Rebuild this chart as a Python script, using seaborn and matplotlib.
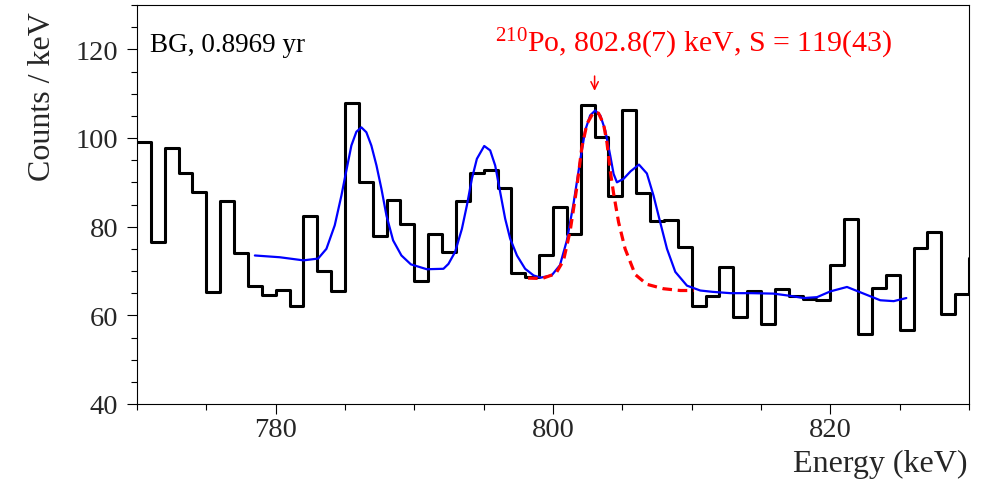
import numpy as np
import pandas as pd
import matplotlib
matplotlib.use("Agg")
import matplotlib.pyplot as plt
from matplotlib.ticker import MultipleLocator
import seaborn as sns

# ---- data ----
bin_low = list(range(770, 831))          # lower edge of each 1 keV bin
counts = [99.0, 76.5, 97.8, 92.0, 87.8, 65.3, 85.7, 74.0, 66.6, 64.5,
          65.8, 62.2, 82.5, 70.1, 65.6, 108.0, 90.0, 78.0, 86.0, 80.6,
          67.7, 78.4, 74.3, 85.7, 92.0, 92.8, 88.7, 69.6, 68.6, 73.7,
          84.5, 78.4, 107.5, 100.3, 87.0, 106.3, 87.6, 81.2, 81.5, 75.4,
          62.1, 64.3, 70.8, 59.6, 65.4, 58.0, 66.0, 64.3, 63.7, 63.4,
          71.4, 81.8, 55.7, 66.2, 69.2, 56.8, 75.2, 78.9, 60.4, 64.9,
          72.9]

fit_E = [778.5, 780.3, 782.0, 783.06, 783.66, 784.26, 784.74, 785.1, 785.46,
         785.82, 786.18, 786.54, 786.9, 787.27, 787.63, 787.99, 788.47,
         789.07, 789.75, 790.9, 792.1, 792.46, 792.94, 793.43, 793.79,
         794.15, 794.51, 795.04, 795.47, 795.83, 796.19, 796.55, 796.91,
         797.4, 797.99, 798.6, 799.1, 799.9, 800.5, 801.0, 801.48, 801.96,
         802.32, 802.68, 803.04, 803.41, 803.77, 804.13, 804.37, 804.61,
         805.09, 805.6, 806.2, 806.77, 807.25, 807.73, 808.22, 808.82,
         809.66, 810.62, 811.5, 812.8, 814.3, 815.9, 817.1, 818.07, 819.04,
         820.0, 821.2, 822.4, 823.6, 824.57, 825.48]
fit_V = [73.5, 73.1, 72.4, 72.8, 75.0, 80.3, 87.0, 92.7, 98.3,
         101.4, 102.4, 101.3, 98.3, 93.8, 88.5, 82.5, 76.9,
         73.5, 71.5, 70.4, 70.5, 71.6, 74.3, 79.5, 84.8,
         90.8, 95.3, 98.2, 97.2, 93.8, 87.8, 81.8, 77.3,
         73.5, 70.5, 69.0, 68.5, 69.0, 71.3, 76.9, 85.2, 94.9,
         101.7, 105.1, 106.2, 105.1, 101.7, 96.0, 91.9, 90.0,
         90.8, 92.5, 94.0, 92.0, 87.0, 81.0, 75.0, 69.8,
         66.7, 65.6, 65.3, 65.0, 65.0, 64.9, 64.4, 63.9, 64.1,
         65.4, 66.4, 64.9, 63.4, 63.2, 63.9]

po_E = [798.2, 799.2, 800.2, 800.76, 801.24, 801.72, 802.08, 802.45, 802.92,
        803.28, 803.64, 803.89, 804.13, 804.37, 804.73, 805.2, 805.93,
        806.77, 807.97, 809.18, 810.15]
po_V = [68.4, 68.3, 69.4, 72.4, 79.1, 88.9, 97.9, 103.2, 105.8,
        105.6, 103.2, 99.0, 92.5, 87.5, 81.0, 75.0, 69.2,
        67.0, 66.0, 65.6, 65.6]

label_bg = "BG, 0.8969 yr"
label_po = r"$^{210}$Po, 802.8(7) keV, S = 119(43)"
po_arrow_E = 803.0

# ---- style ----
sns.set_theme(style="white")
plt.rcParams["font.family"] = ["Liberation Serif", "DejaVu Serif"]
plt.rcParams["mathtext.fontset"] = "custom"
plt.rcParams["mathtext.rm"] = "Liberation Serif"
plt.rcParams["mathtext.it"] = "Liberation Serif:italic"
plt.rcParams["mathtext.bf"] = "Liberation Serif:bold"

fig = plt.figure(figsize=(9.86, 4.85), dpi=100)
ax = fig.add_axes([137 / 986, 1 - 405 / 485, 832 / 986, 399 / 485])

edges = bin_low + [bin_low[-1] + 1]
centers = [b + 0.5 for b in bin_low]
sns.histplot(x=centers, weights=counts, bins=edges, element="step",
             fill=False, color="black", linewidth=2.2, ax=ax)

sns.lineplot(x=fit_E, y=fit_V, color="#0000ff", linewidth=1.6,
             sort=False, estimator=None, ax=ax)
sns.lineplot(x=po_E, y=po_V, color="#ff0000", linewidth=2.3,
             sort=False, estimator=None, ax=ax)
ax.lines[-1].set_dashes([3.0, 1.8])

ax.set_xlim(770, 830)
ax.set_ylim(40, 130)

ax.xaxis.set_major_locator(MultipleLocator(20))
ax.xaxis.set_minor_locator(MultipleLocator(5))
ax.yaxis.set_major_locator(MultipleLocator(20))
ax.yaxis.set_minor_locator(MultipleLocator(5))

ax.tick_params(axis="both", which="both", direction="out", color="black",
               width=0.8, top=False, right=False, bottom=True, left=True)
ax.tick_params(axis="both", which="major", length=7.5, labelsize=20.5)
ax.tick_params(axis="both", which="minor", length=4.2)
ax.tick_params(axis="x", which="major", pad=2)
ax.tick_params(axis="y", which="major", pad=6)

for s in ax.spines.values():
    s.set_color("black")
    s.set_linewidth(0.8)
    s.set_visible(True)

ax.set_xlabel("Energy (keV)", fontsize=23, loc="right")
ax.set_ylabel("Counts / keV", fontsize=23, loc="top")
ax.xaxis.label.set_va("baseline")
ax.xaxis.set_label_coords(0.9976, -0.168)
ax.yaxis.label.set_va("baseline")
ax.yaxis.set_label_coords(-0.1046, 0.985)

ax.text(770.94, 119.6, label_bg, fontsize=19.5, color="black",
        ha="left", va="baseline")
ax.text(824.4, 119.6, label_po, fontsize=21.5, color="#ff0000",
        ha="right", va="baseline")
ax.annotate("", xy=(po_arrow_E, 110.0), xytext=(po_arrow_E, 114.6),
            arrowprops=dict(arrowstyle="->,head_length=0.45,head_width=0.22",
                            color="#ff0000", lw=1.1))

fig.savefig("out.png", dpi=100)
